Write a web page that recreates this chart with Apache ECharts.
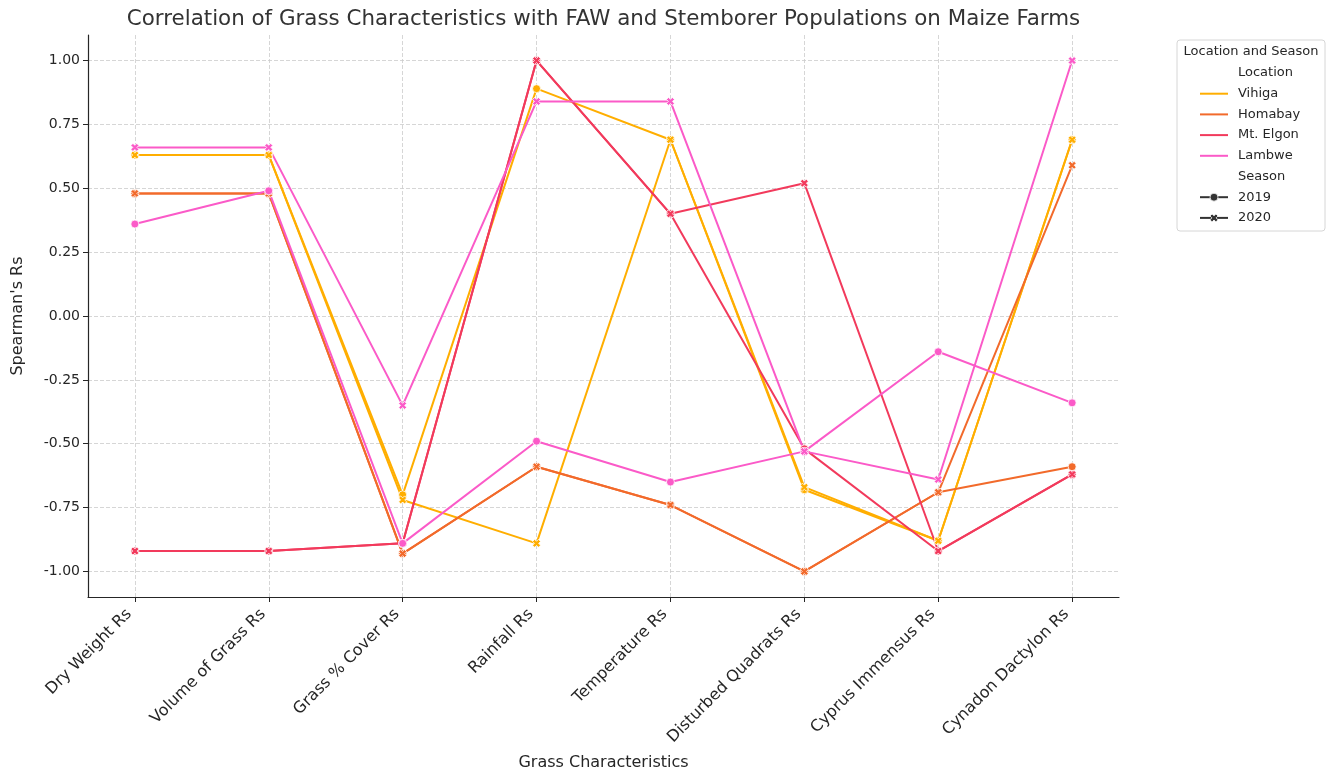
<!DOCTYPE html>
<html>
<head>
<meta charset="utf-8">
<title>Grass characteristics vs FAW and stemborer populations</title>
<script src="https://cdn.jsdelivr.net/npm/echarts@6/dist/echarts.min.js"></script>
<style>
  html, body { margin: 0; padding: 0; background: #ffffff; }
  #chart { width: 1338px; height: 776px; }
</style>
</head>
<body>
<div id="chart"></div>
<script>
// Grass characteristics on the x axis
const categories = [
  'Dry Weight Rs', 'Volume of Grass Rs', 'Grass % Cover Rs', 'Rainfall Rs',
  'Temperature Rs', 'Disturbed Quadrats Rs', 'Cyprus Immensus Rs', 'Cynadon Dactylon Rs'
];

// Spearman's Rs tick values
const yTicks = [-1, -0.75, -0.5, -0.25, 0, 0.25, 0.5, 0.75, 1];

const locations = ['Vihiga', 'Homabay', 'Mt. Elgon', 'Lambwe'];
const seasons = ['2019', '2020'];
const locationColors = ['#ffae00', '#f26a2b', '#f23a5c', '#fb5ac8'];

// Spearman's Rs per location and season
const vihiga2019   = [0.63, 0.63, -0.70, 0.89, 0.69, -0.68, -0.88, 0.69];
const vihiga2020   = [0.63, 0.63, -0.72, -0.89, 0.69, -0.67, -0.88, 0.69];
const homabay2019  = [0.48, 0.48, -0.93, -0.59, -0.74, -1.00, -0.69, -0.59];
const homabay2020  = [0.48, 0.48, -0.93, -0.59, -0.74, -1.00, -0.69, 0.59];
const mtElgon2019  = [-0.92, -0.92, -0.89, 1.00, 0.40, -0.52, -0.92, -0.62];
const mtElgon2020  = [-0.92, -0.92, -0.89, 1.00, 0.40, 0.52, -0.92, -0.62];
const lambwe2019   = [0.36, 0.49, -0.89, -0.49, -0.65, -0.53, -0.14, -0.34];
const lambwe2020   = [0.66, 0.66, -0.35, 0.84, 0.84, -0.53, -0.64, 1.00];

const valuesByLocation = [
  [vihiga2019, vihiga2020],
  [homabay2019, homabay2020],
  [mtElgon2019, mtElgon2020],
  [lambwe2019, lambwe2020]
];

// filled "X" marker outline on a 10x10 box, used for the 2020 season
const xOutline = [
  [0, 2.6], [2.6, 0], [5, 2.4], [7.4, 0], [10, 2.6], [7.6, 5],
  [10, 7.4], [7.4, 10], [5, 7.6], [2.6, 10], [0, 7.4], [2.4, 5]
];
const xMarker = 'path://M' + xOutline.map(p => p[0] + ',' + p[1]).join('L') + 'Z';
const seasonSymbols = ['circle', xMarker];
const seasonSymbolSizes = [8, 8];

const FONT = '"DejaVu Sans", sans-serif';
const TEXT = '#262626';

const gridBox = { left: 88, right: 219, top: 35, bottom: 176 };
const plotCenterX = gridBox.left + (1338 - gridBox.left - gridBox.right) / 2;

const series = [];
locations.forEach((loc, li) => {
  seasons.forEach((season, si) => {
    series.push({
      name: loc + ' ' + season,
      type: 'line',
      data: valuesByLocation[li][si].map((v, i) => [i, v]),
      symbol: seasonSymbols[si],
      symbolSize: seasonSymbolSizes[si],
      showSymbol: true,
      showAllSymbol: true,
      lineStyle: { color: locationColors[li], width: 2 },
      itemStyle: { color: locationColors[li], borderColor: '#ffffff', borderWidth: 0.8 },
      emphasis: { disabled: true },
      animation: false,
      z: 2
    });
  });
});

// legend block: title, location colours, season markers
const legendLeft = 1177, legendTop = 40, rowH = 20.7;
const legendFont = '13px ' + FONT;
const legendRows = [];
legendRows.push({ kind: 'header', text: 'Location' });
locations.forEach((loc, li) => legendRows.push({ kind: 'loc', text: loc, color: locationColors[li] }));
legendRows.push({ kind: 'header', text: 'Season' });
seasons.forEach((s, si) => legendRows.push({ kind: 'season', text: s, si: si }));

const legendChildren = [
  {
    type: 'rect',
    shape: { x: 0, y: 0, width: 148, height: 191, r: 3 },
    style: { fill: 'rgba(255,255,255,0.8)', stroke: '#d6d6d6', lineWidth: 1 }
  },
  {
    type: 'text',
    x: 74, y: 12,
    style: { text: 'Location and Season', font: legendFont, fill: TEXT, align: 'center', verticalAlign: 'middle' }
  }
];
legendRows.forEach((row, ri) => {
  const cy = 33 + ri * rowH;
  legendChildren.push({
    type: 'text',
    x: 61, y: cy,
    style: { text: row.text, font: legendFont, fill: TEXT, align: 'left', verticalAlign: 'middle' }
  });
  if (row.kind === 'loc') {
    legendChildren.push({
      type: 'line',
      shape: { x1: 23, y1: cy, x2: 51, y2: cy },
      style: { stroke: row.color, lineWidth: 2 }
    });
  } else if (row.kind === 'season') {
    legendChildren.push({
      type: 'line',
      shape: { x1: 23, y1: cy, x2: 51, y2: cy },
      style: { stroke: '#333333', lineWidth: 2 }
    });
    if (row.si === 0) {
      legendChildren.push({
        type: 'circle',
        shape: { cx: 37, cy: cy, r: 4 },
        style: { fill: '#333333', stroke: '#ffffff', lineWidth: 0.8 }
      });
    } else {
      legendChildren.push({
        type: 'polygon',
        shape: { points: xOutline.map(p => [33 + p[0] * 0.8, cy - 4 + p[1] * 0.8]) },
        style: { fill: '#333333', stroke: '#ffffff', lineWidth: 0.8 }
      });
    }
  }
});

const chart = echarts.init(document.getElementById('chart'), null, { renderer: 'canvas' });

const option = {
  backgroundColor: '#ffffff',
  animation: false,
  textStyle: { fontFamily: FONT },
  grid: Object.assign({ containLabel: false }, gridBox),
  xAxis: {
    type: 'value',
    min: -0.35,
    max: 7.35,
    name: 'Grass Characteristics',
    nameLocation: 'middle',
    nameGap: 158,
    nameTextStyle: { fontSize: 16, color: TEXT, fontFamily: FONT },
    axisLine: { show: true, onZero: false, lineStyle: { color: '#262626', width: 1.2 } },
    axisTick: {
      show: true, length: 5, inside: false,
      customValues: categories.map((c, i) => i),
      lineStyle: { color: '#262626', width: 1 }
    },
    axisLabel: {
      customValues: categories.map((c, i) => i),
      formatter: v => categories[Math.round(v)] || '',
      rotate: 45,
      margin: 9,
      padding: [0, 8, 0, 0],
      fontSize: 16,
      color: TEXT,
      fontFamily: FONT
    },
    splitLine: { show: true, lineStyle: { color: '#cccccc', width: 0.8, type: [4, 2] } }
  },
  yAxis: {
    type: 'value',
    min: -1.1,
    max: 1.1,
    name: "Spearman's Rs",
    nameLocation: 'middle',
    nameGap: 62,
    nameRotate: 90,
    nameTextStyle: { fontSize: 16, color: TEXT, fontFamily: FONT },
    axisLine: { show: true, onZero: false, lineStyle: { color: '#262626', width: 1.2 } },
    axisTick: {
      show: true, length: 5, inside: false,
      customValues: yTicks,
      lineStyle: { color: '#262626', width: 1 }
    },
    axisLabel: {
      customValues: yTicks,
      formatter: v => (v < 0 ? '-' : '') + Math.abs(v).toFixed(2),
      margin: 8,
      fontSize: 14,
      color: TEXT,
      fontFamily: FONT
    },
    splitLine: { show: true, lineStyle: { color: '#cccccc', width: 0.8, type: [4, 2] } }
  },
  graphic: [
    {
      type: 'text',
      x: plotCenterX, y: 19,
      style: {
        text: 'Correlation of Grass Characteristics with FAW and Stemborer Populations on Maize Farms',
        font: '21.4px ' + FONT, fill: '#333333', align: 'center', verticalAlign: 'middle'
      }
    },
    {
      type: 'group',
      x: legendLeft, y: legendTop,
      children: legendChildren
    }
  ],
  series: series
};

chart.setOption(option);
</script>
</body>
</html>
